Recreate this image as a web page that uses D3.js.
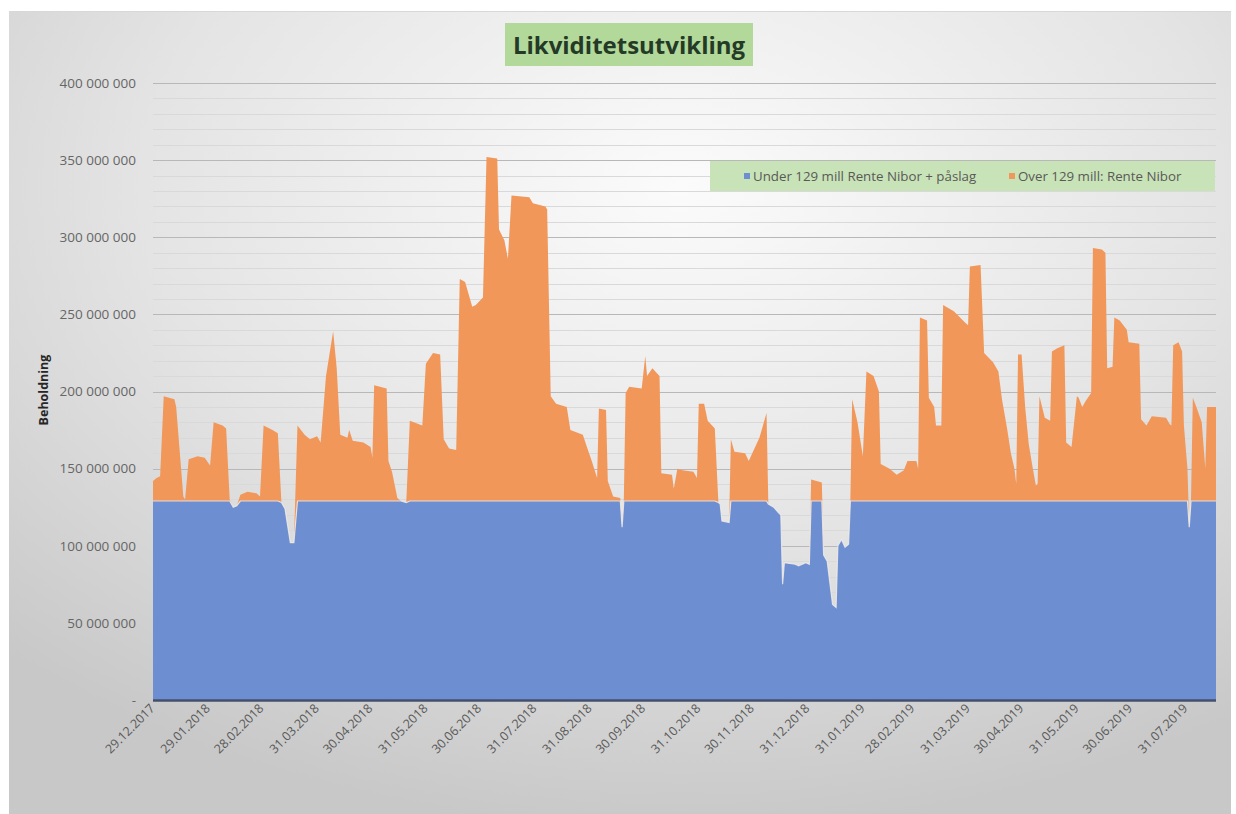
<!DOCTYPE html>
<html>
<head>
<meta charset="utf-8">
<script src="https://cdn.jsdelivr.net/npm/d3@7"></script>
<style>
  body { margin: 0; background: #fff; }
  text { font-family: 'Open Sans', sans-serif; }
</style>
</head>
<body>
<svg id="chart" width="1236" height="814"></svg>
<script>
// daily balance (million NOK)
const dates = [
  '2017-12-29','2017-12-31',
  '2018-01-02','2018-01-04','2018-01-10','2018-01-11','2018-01-15','2018-01-16','2018-01-18','2018-01-23','2018-01-27','2018-01-30',
  '2018-02-01','2018-02-06','2018-02-08','2018-02-10','2018-02-12','2018-02-14','2018-02-16','2018-02-20','2018-02-25','2018-02-27',
  '2018-03-01','2018-03-06','2018-03-09','2018-03-11','2018-03-13','2018-03-16','2018-03-18','2018-03-20','2018-03-24','2018-03-27','2018-03-31',
  '2018-04-02','2018-04-05','2018-04-09','2018-04-11','2018-04-13','2018-04-17','2018-04-18','2018-04-20','2018-04-26','2018-04-30',
  '2018-05-01','2018-05-02','2018-05-09','2018-05-10','2018-05-12','2018-05-15','2018-05-17','2018-05-20','2018-05-22','2018-05-29','2018-05-31',
  '2018-06-04','2018-06-08','2018-06-10','2018-06-13','2018-06-17','2018-06-19','2018-06-22','2018-06-26','2018-06-28',
  '2018-07-02','2018-07-04','2018-07-10','2018-07-11','2018-07-14','2018-07-16','2018-07-18','2018-07-28','2018-07-30',
  '2018-08-06','2018-08-07','2018-08-09','2018-08-12','2018-08-18','2018-08-20','2018-08-27','2018-08-29',
  '2018-09-01','2018-09-04','2018-09-05','2018-09-09','2018-09-10','2018-09-13','2018-09-17','2018-09-18','2018-09-19','2018-09-20','2018-09-22','2018-09-29',
  '2018-10-01','2018-10-02','2018-10-05','2018-10-09','2018-10-10','2018-10-16','2018-10-17','2018-10-19','2018-10-22','2018-10-28','2018-10-30','2018-10-31',
  '2018-11-03','2018-11-05','2018-11-09','2018-11-11','2018-11-12','2018-11-13','2018-11-17','2018-11-18','2018-11-20','2018-11-26','2018-11-28',
  '2018-12-02','2018-12-04','2018-12-08','2018-12-09','2018-12-12','2018-12-15','2018-12-16','2018-12-17','2018-12-18','2018-12-24','2018-12-26','2018-12-30',
  '2019-01-01','2019-01-02','2019-01-08','2019-01-09','2019-01-11','2019-01-14','2019-01-16','2019-01-17','2019-01-19','2019-01-21','2019-01-23','2019-01-24','2019-01-25','2019-01-28','2019-01-31',
  '2019-02-02','2019-02-06','2019-02-09','2019-02-10','2019-02-15','2019-02-19','2019-02-23','2019-02-25',
  '2019-03-02','2019-03-03','2019-03-04','2019-03-08','2019-03-09','2019-03-12','2019-03-13','2019-03-16','2019-03-17','2019-03-23','2019-03-29','2019-03-31',
  '2019-04-01','2019-04-07','2019-04-09','2019-04-14','2019-04-17','2019-04-19','2019-04-22','2019-04-24','2019-04-26','2019-04-27','2019-04-28','2019-04-30',
  '2019-05-02','2019-05-04','2019-05-06','2019-05-08','2019-05-09','2019-05-10','2019-05-13','2019-05-16','2019-05-17','2019-05-20','2019-05-24','2019-05-25','2019-05-28','2019-05-31',
  '2019-06-01','2019-06-03','2019-06-05','2019-06-08','2019-06-09','2019-06-14','2019-06-16','2019-06-17','2019-06-20','2019-06-21','2019-06-24','2019-06-28','2019-06-29',
  '2019-07-05','2019-07-06','2019-07-09','2019-07-12','2019-07-20','2019-07-22','2019-07-23','2019-07-24','2019-07-27','2019-07-29','2019-07-30',
  '2019-08-01','2019-08-02','2019-08-03','2019-08-04','2019-08-06','2019-08-09','2019-08-11','2019-08-12','2019-08-17'
];
const balance = [
  142,144,
  145,197,195,190,132,130,156,158,157,152,
  180,178,176,130,125,126,133,135,134,132,
  178,175,173,128,124,102,102,178,172,169,171,
  167,210,239,215,172,170,175,168,167,164,
  157,204,202,155,148,131,129,128,181,178,218,
  225,224,169,163,162,273,271,255,256,
  261,352,351,305,298,286,327,326,322,
  320,318,197,192,190,175,172,165,
  155,144,189,188,142,132,131,112,131,199,203,202,
  223,210,215,210,147,146,137,150,149,148,144,192,
  192,181,176,128,127,116,115,169,161,160,155,
  165,170,186,127,125,121,120,75,89,88,87,89,
  88,143,141,94,90,62,60,100,104,99,101,130,195,180,158,
  213,210,200,153,150,146,149,155,
  155,150,248,246,196,190,178,178,256,252,245,243,
  281,282,225,219,213,195,175,160,150,140,224,224,
  190,166,152,139,140,197,183,181,226,228,230,167,164,197,
  196,190,194,199,293,292,290,215,216,248,246,240,232,
  231,182,178,184,183,179,178,230,232,226,178,
  150,112,130,196,190,180,150,190,190
];
const threshold = 129; // mill
const tickLabels = ['29.12.2017','29.01.2018','28.02.2018','31.03.2018','30.04.2018','31.05.2018',
  '30.06.2018','31.07.2018','31.08.2018','30.09.2018','31.10.2018','30.11.2018','31.12.2018',
  '31.01.2019','28.02.2019','31.03.2019','30.04.2019','31.05.2019','30.06.2019','31.07.2019'];
const seriesKeys = ['under', 'over'];
const seriesNames = ['Under 129 mill Rente Nibor + påslag', 'Over 129 mill: Rente Nibor'];
const seriesColors = ['#6d8fd1', '#f1975a'];

const svg = d3.select('#chart');
const width = 1236, height = 814;

// background with soft gradient like the Excel chart style
const defs = svg.append('defs');
const grad = defs.append('radialGradient')
  .attr('id', 'bg').attr('cx', '55%').attr('cy', '22%').attr('r', '80%');
grad.append('stop').attr('offset', '0%').attr('stop-color', '#fbfbfb');
grad.append('stop').attr('offset', '55%').attr('stop-color', '#e4e4e4');
grad.append('stop').attr('offset', '100%').attr('stop-color', '#c8c8c8');

svg.append('rect')
  .attr('x', 9).attr('y', 11).attr('width', 1222).attr('height', 803)
  .attr('fill', 'url(#bg)');
svg.append('line')
  .attr('x1', 9).attr('x2', 1231).attr('y1', 11.5).attr('y2', 11.5)
  .attr('stroke', '#d8d8d8');

const margin = {left: 153, right: 20, top: 83, bottom: 114};
const plotW = width - margin.left - margin.right;
const plotH = height - margin.top - margin.bottom;

const parseIso = d3.timeParse('%Y-%m-%d');
const parseNo = d3.timeParse('%d.%m.%Y');

const rows = dates.map((d, i) => ({
  date: parseIso(d),
  under: Math.min(balance[i], threshold) * 1e6,
  over: Math.max(0, balance[i] - threshold) * 1e6
}));

const x = d3.scaleTime()
  .domain([parseIso('2017-12-29'), parseIso('2019-08-17')])
  .range([0, plotW]);
const y = d3.scaleLinear().domain([0, 400e6]).range([plotH, 0]);

const g = svg.append('g').attr('transform', `translate(${margin.left},${margin.top})`);

// gridlines: minor every 10 mill, major every 50 mill
const minor = d3.range(10e6, 400e6 + 1, 10e6).filter(v => v % 50e6 !== 0);
g.append('g').selectAll('line').data(minor).join('line')
  .attr('x1', 0).attr('x2', plotW)
  .attr('y1', d => Math.round(y(d)) + 0.5).attr('y2', d => Math.round(y(d)) + 0.5)
  .attr('stroke', '#d9d9d9').attr('stroke-width', 1);
const major = d3.range(50e6, 400e6 + 1, 50e6);
g.append('g').selectAll('line').data(major).join('line')
  .attr('x1', 0).attr('x2', plotW)
  .attr('y1', d => Math.round(y(d)) + 0.5).attr('y2', d => Math.round(y(d)) + 0.5)
  .attr('stroke', '#b8b8b8').attr('stroke-width', 1.2);

// stacked areas
const stacked = d3.stack().keys(seriesKeys)(rows);
const area = d3.area()
  .x(d => x(d.data.date))
  .y0(d => y(d[0]))
  .y1(d => y(d[1]));

g.append('g').selectAll('path').data(stacked).join('path')
  .attr('fill', (d, i) => seriesColors[i])
  .attr('d', area);

// thin light seam on top of the blue series
g.append('path')
  .datum(stacked[0])
  .attr('fill', 'none')
  .attr('stroke', '#f4ede8')
  .attr('stroke-opacity', 0.8)
  .attr('stroke-width', 1.2)
  .attr('d', d3.line().x(d => x(d.data.date)).y(d => y(d[1])));

// y axis
const locale = d3.formatLocale({decimal: ',', thousands: ' ', grouping: [3], currency: ['', '']});
const fmt = locale.format(',');
const yAxis = d3.axisLeft(y)
  .tickValues(d3.range(0, 400e6 + 1, 50e6))
  .tickSize(0).tickPadding(17)
  .tickFormat(d => d === 0 ? '-' : fmt(d));
g.append('g').call(yAxis)
  .call(a => a.select('.domain').remove())
  .selectAll('text')
  .attr('fill', '#666').style('font-size', '13.5px');

// x axis
const xAxis = d3.axisBottom(x)
  .tickValues(tickLabels.map(parseNo))
  .tickSize(0)
  .tickFormat(d3.timeFormat('%d.%m.%Y'));
const xg = g.append('g').attr('transform', `translate(0,${plotH})`).call(xAxis);
xg.select('.domain').remove();
xg.selectAll('text')
  .attr('fill', '#595959').style('font-size', '12.5px')
  .attr('text-anchor', 'end')
  .attr('dy', 0)
  .attr('transform', 'translate(0,7) rotate(-45)');

g.append('line')
  .attr('x1', 0).attr('x2', plotW).attr('y1', plotH + 0.5).attr('y2', plotH + 0.5)
  .attr('stroke', '#44506b').attr('stroke-width', 2.5);

// y axis title
svg.append('text')
  .attr('transform', 'translate(48,390) rotate(-90)')
  .attr('text-anchor', 'middle')
  .style('font-size', '12.5px').style('font-weight', 700)
  .attr('fill', '#262626')
  .text('Beholdning');

// title
svg.append('rect')
  .attr('x', 505).attr('y', 23).attr('width', 248).attr('height', 43)
  .attr('fill', '#b2d89a');
svg.append('text')
  .attr('x', 629).attr('y', 54)
  .attr('text-anchor', 'middle')
  .style('font-size', '24px').style('font-weight', 700)
  .attr('fill', '#243a26')
  .text('Likviditetsutvikling');

// legend
svg.append('rect')
  .attr('x', 710).attr('y', 161).attr('width', 505).attr('height', 30)
  .attr('fill', '#c8e3b7');
const legendX = [744, 1009];
const lg = svg.append('g').selectAll('g').data(seriesNames).join('g')
  .attr('transform', (d, i) => `translate(${legendX[i]},176)`);
lg.append('rect')
  .attr('x', 0).attr('y', -3).attr('width', 6).attr('height', 6)
  .attr('fill', (d, i) => seriesColors[i]);
lg.append('text')
  .attr('x', 9).attr('dy', '0.35em')
  .style('font-size', '13.3px')
  .attr('fill', '#595959')
  .text(d => d);
</script>
</body>
</html>
